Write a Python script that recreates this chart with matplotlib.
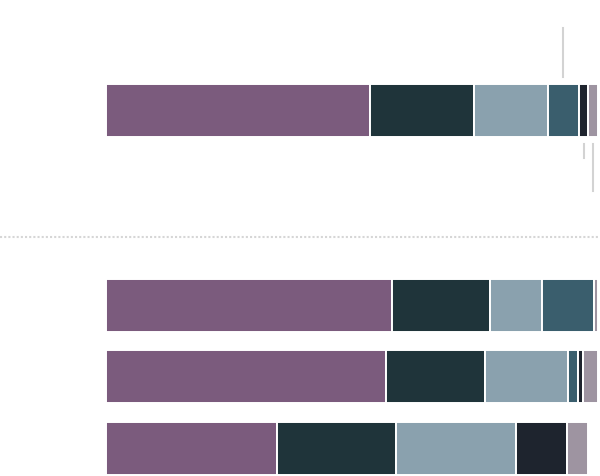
import matplotlib
matplotlib.use("Agg")
import matplotlib.pyplot as plt

# share of each category per group (percent)
categories = ["A", "B", "C", "D", "E", "F"]
overall = [53.6, 21.2, 14.9, 6.3, 2.0, 2.0]
group_1 = [58.0, 20.0, 10.6, 10.5, 0.0, 0.9]
group_2 = [56.9, 20.0, 16.9, 2.1, 1.0, 3.1]
group_3 = [34.6, 24.3, 24.3, 0.0, 10.5, 4.2]

colors = ["#7b5b7d", "#1f343a", "#8aa1ae", "#3a5e6d", "#1e242e", "#9e94a1"]


def stacked(ax, y, values, h=53):
    left = 0
    for v, c in zip(values, colors):
        if v > 0:
            ax.barh(y, v, left=left, height=h, color=c,
                    edgecolor="white", linewidth=1.4)
        left += v


def main():
    fig = plt.figure(figsize=(6, 4.76), dpi=100)
    # axes x runs 0..100 %, y in pixel rows (inverted)
    ax = fig.add_axes([106.3 / 600, 0, 492 / 600, 1])
    ax.set_xlim(0, 100)
    ax.set_ylim(476, 0)
    ax.axis("off")

    stacked(ax, 110, overall)
    stacked(ax, 305, group_1)
    stacked(ax, 376.7, group_2)
    stacked(ax, 448.5, group_3)

    # leader lines for the small segments of the top bar
    starts = [sum(overall[:i]) for i in range(len(overall))]
    mids = [s + v / 2 for s, v in zip(starts, overall)]
    ax.plot([mids[3], mids[3]], [28, 77], color="#d3d3d3", lw=1.5, clip_on=False)
    ax.plot([mids[4], mids[4]], [144, 158], color="#d3d3d3", lw=1.5, clip_on=False)
    ax.plot([mids[5], mids[5]], [144, 191], color="#d3d3d3", lw=1.5, clip_on=False)

    # dotted separator
    ax.plot([-106.3 / 492 * 100, 100], [237.3, 237.3], color="#d6d6d6",
            lw=1.5, ls=(0, (1, 1)), clip_on=False)

    fig.savefig("out.png", dpi=100)


if __name__ == "__main__":
    main()
